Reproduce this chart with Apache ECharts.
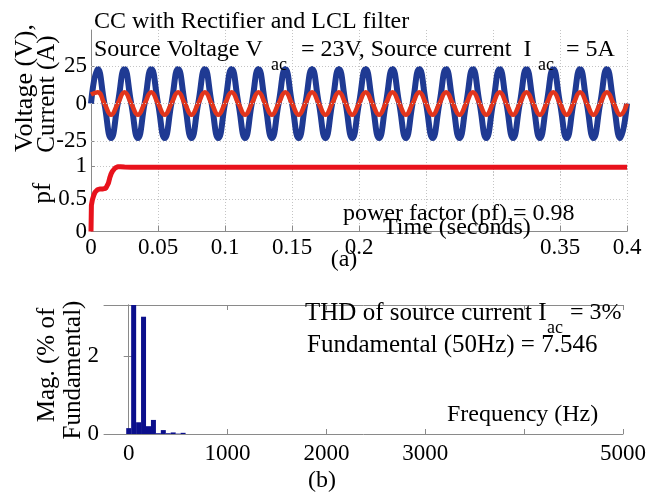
<!DOCTYPE html>
<html><head><meta charset="utf-8">
<script src="https://cdn.jsdelivr.net/npm/echarts@6/dist/echarts.min.js"></script>
<style>html,body{margin:0;padding:0;background:#fff}#c{width:660px;height:495px}</style>
</head><body><div id="c"></div>
<script>
// ---- data ----
const tWave = [0,0.005,0.01,0.015,0.02,0.025,0.03,0.035,0.04,0.045,0.05,0.055,0.06,0.065,0.07,0.075,0.08,0.085,0.09,0.095,
  0.1,0.105,0.11,0.115,0.12,0.125,0.13,0.135,0.14,0.145,0.15,0.155,0.16,0.165,0.17,0.175,0.18,0.185,0.19,0.195,
  0.2,0.205,0.21,0.215,0.22,0.225,0.23,0.235,0.24,0.245,0.25,0.255,0.26,0.265,0.27,0.275,0.28,0.285,0.29,0.295,
  0.3,0.305,0.31,0.315,0.32,0.325,0.33,0.335,0.34,0.345,0.35,0.355,0.36,0.365,0.37,0.375,0.38,0.385,0.39,0.395,0.4];
const voltage = [0,23,0,-23,0,23,0,-23,0,23,0,-23,0,23,0,-23,0,23,0,-23,
  0,23,0,-23,0,23,0,-23,0,23,0,-23,0,23,0,-23,0,23,0,-23,
  0,23,0,-23,0,23,0,-23,0,23,0,-23,0,23,0,-23,0,23,0,-23,
  0,23,0,-23,0,23,0,-23,0,23,0,-23,0,23,0,-23,0,23,0,-23,0];
const current = [6,7.5,0,-7.5,0,7.5,0,-7.5,0,7.5,0,-7.5,0,7.5,0,-7.5,0,7.5,0,-7.5,
  0,7.5,0,-7.5,0,7.5,0,-7.5,0,7.5,0,-7.5,0,7.5,0,-7.5,0,7.5,0,-7.5,
  0,7.5,0,-7.5,0,7.5,0,-7.5,0,7.5,0,-7.5,0,7.5,0,-7.5,0,7.5,0,-7.5,
  0,7.5,0,-7.5,0,7.5,0,-7.5,0,7.5,0,-7.5,0,7.5,0,-7.5,0,7.5,0,-7.5,0];
const tPf = [0,0.0003,0.001,0.002,0.003,0.005,0.007,0.009,0.011,0.012,0.013,0.014,0.015,0.016,0.017,0.018,0.019,0.02,0.022,0.025,0.03,0.4];
const pf  = [0,0.40,0.48,0.55,0.60,0.64,0.65,0.65,0.66,0.68,0.74,0.82,0.88,0.92,0.95,0.97,0.98,0.99,0.99,0.985,0.98,0.98];
const freqHz = [0,50,100,150,200,250,300,350,400,450,500,550];
const magPct = [0.15,100,0.3,3.0,0.2,0.36,0.02,0.1,0.02,0.04,0.01,0.03];
// tick labels
const waveYTicks = [-25,0,25];
const pfYTicks = [0,0.5,1];
const timeTickLabels = [0,0.05,0.1,0.15,0.2,0.35,0.4];
const freqTicks = [0,1000,2000,3000,4000,5000];
const freqTickLabels = [0,1000,2000,3000,5000];
const magTicks = [0,2];

// ---- styling ----
const FONT = 'Liberation Serif';
const AX = '#8a8a8a';
const GC = '#c4c4c4';
const plain = v => String(v);
const LBL = {fontFamily: FONT, fontSize: 23, color: '#000', formatter: plain};
const dotted = {show: true, showMinLine: false, lineStyle: {type: [1, 2], color: GC, width: 1}};
function pairs(xs, ys) { return xs.map((x, i) => [x, ys[i]]); }
function txt(text, x, y, size, align) {
  return {type: 'text', x: x, y: y, z: 100,
    style: {text: text, font: size + 'px "' + FONT + '"', fill: '#000', textAlign: align || 'left', textVerticalAlign: 'middle'}};
}
function rtxt(text, x, y, size) {
  return {type: 'text', x: x, y: y, rotation: Math.PI / 2, z: 100,
    style: {text: text, font: size + 'px "' + FONT + '"', fill: '#000', textAlign: 'center', textVerticalAlign: 'middle'}};
}

const chart = echarts.init(document.getElementById('c'));
chart.setOption({
  animation: false,
  textStyle: {fontFamily: FONT},
  grid: [
    {left: 91, top: 30, width: 536, height: 147},
    {left: 91, top: 166, width: 536, height: 65.5},
    {left: 104, top: 305, width: 519, height: 129}
  ],
  xAxis: [
    {gridIndex: 0, type: 'value', min: 0, max: 0.4, interval: 0.05,
      axisLine: {show: false}, axisTick: {show: false}, axisLabel: {show: false}, splitLine: dotted},
    {gridIndex: 1, type: 'value', min: 0, max: 0.4, interval: 0.05,
      axisLine: {show: true, lineStyle: {color: AX}},
      axisTick: {show: true, inside: true, length: 6, lineStyle: {color: AX}},
      axisLabel: Object.assign({}, LBL, {margin: 5, customValues: timeTickLabels}),
      splitLine: dotted},
    {gridIndex: 2, type: 'value', position: 'bottom', min: -250, max: 5000,
      axisLine: {show: true, onZero: false, lineStyle: {color: AX}},
      axisTick: {show: true, inside: true, length: 5, customValues: freqTicks, lineStyle: {color: AX}},
      axisLabel: Object.assign({}, LBL, {margin: 8, customValues: freqTickLabels}),
      splitLine: {show: false}},
    {gridIndex: 2, type: 'value', position: 'top', min: -250, max: 5000,
      axisLine: {show: true, onZero: false, lineStyle: {color: AX}},
      axisTick: {show: true, inside: true, length: 5, customValues: freqTicks, lineStyle: {color: AX}},
      axisLabel: {show: false}, splitLine: {show: false}}
  ],
  yAxis: [
    {gridIndex: 0, type: 'value', min: -49, max: 49, interval: 24.5,
      axisLine: {show: true, lineStyle: {color: AX}},
      axisTick: {show: true, inside: true, length: 4, customValues: waveYTicks, lineStyle: {color: AX}},
      axisLabel: Object.assign({}, LBL, {margin: 4, customValues: waveYTicks}),
      splitLine: {show: false}},
    {gridIndex: 1, type: 'value', min: 0, max: 1, interval: 0.5,
      axisLine: {show: true, lineStyle: {color: AX}},
      axisTick: {show: true, inside: true, length: 4, lineStyle: {color: AX}},
      axisLabel: Object.assign({}, LBL, {margin: 4, customValues: pfYTicks}),
      splitLine: dotted},
    {gridIndex: 2, type: 'value', position: 'left', min: 0, max: 3.3,
      axisLine: {show: true, lineStyle: {color: AX}},
      axisTick: {show: true, inside: true, length: 5, customValues: magTicks, lineStyle: {color: AX}},
      axisLabel: Object.assign({}, LBL, {margin: 5, customValues: magTicks}),
      splitLine: {show: false}},
    {gridIndex: 2, type: 'value', position: 'right', min: 0, max: 3.3,
      axisLine: {show: true, lineStyle: {color: AX}},
      axisTick: {show: true, inside: true, length: 5, customValues: magTicks, lineStyle: {color: AX}},
      axisLabel: {show: false}, splitLine: {show: false}}
  ],
  series: [
    {type: 'line', xAxisIndex: 0, yAxisIndex: 0, data: pairs(tWave, voltage), smooth: 0.5,
      showSymbol: false, lineStyle: {color: '#1f3a93', width: 6},
      markLine: {silent: true, symbol: 'none', label: {show: false},
        lineStyle: {type: [1, 2], color: GC, width: 1}, data: waveYTicks.map(v => ({yAxis: v}))}},
    {type: 'line', xAxisIndex: 0, yAxisIndex: 0, data: pairs(tWave, current), smooth: 0.5,
      showSymbol: false, lineStyle: {color: '#e2351c', width: 4.5}},
    {type: 'line', xAxisIndex: 1, yAxisIndex: 1, data: pairs(tPf, pf),
      showSymbol: false, lineStyle: {color: '#e8121c', width: 5}},
    {type: 'bar', xAxisIndex: 2, yAxisIndex: 2, data: pairs(freqHz, magPct), barWidth: 5,
      itemStyle: {color: '#0b0f8c'}}
  ],
  graphic: [
    txt('CC with Rectifier and LCL filter', 94, 22, 24),
    txt('Source Voltage V', 94, 50, 24),
    txt('ac', 271, 65, 18),
    txt('= 23V, Source current  I', 301, 50, 24),
    txt('ac', 538, 65, 18),
    txt('= 5A', 566, 50, 24),
    rtxt('Voltage (V),', 25, 88, 26),
    rtxt('Current (A)', 47, 94, 25),
    rtxt('pf', 43, 193, 25),
    txt('power factor (pf) = 0.98', 343, 214, 24),
    txt('Time (seconds)', 383, 228, 24),
    txt('(a)', 344, 260, 24, 'center'),
    txt('THD of source current I', 305, 313, 25),
    txt('ac', 547, 328, 18),
    txt('= 3%', 570, 313, 24),
    txt('Fundamental (50Hz) = 7.546', 307, 345, 25),
    txt('Frequency (Hz)', 447, 415, 24),
    txt('(b)', 322, 481, 24, 'center'),
    rtxt('Mag. (% of', 47, 365, 25),
    rtxt('Fundamental)', 73, 370, 25)
  ]
});
</script></body></html>
